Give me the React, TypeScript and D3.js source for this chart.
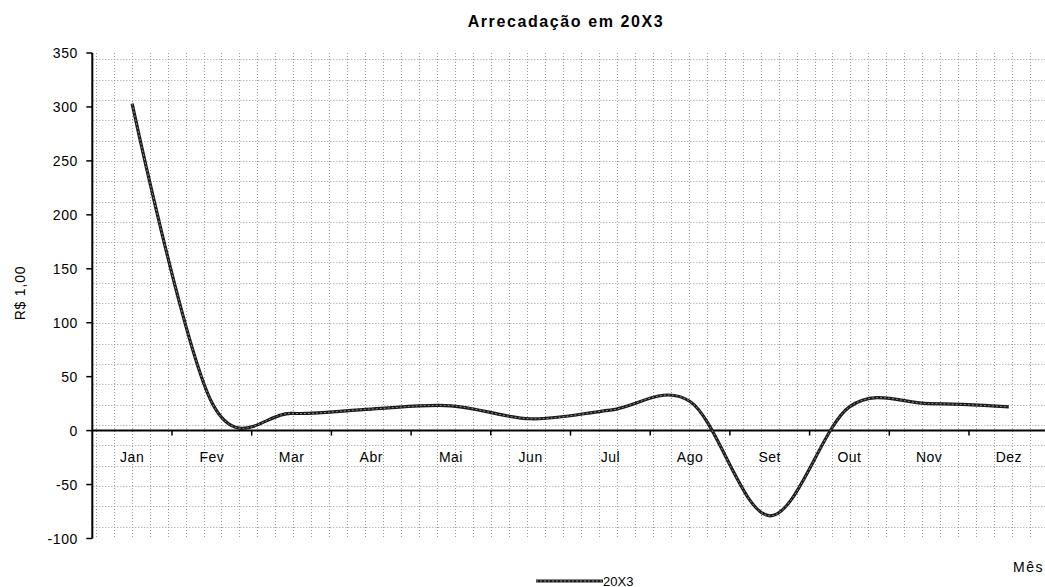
import React from "react";
import * as d3 from "d3";

const months = ["Jan", "Fev", "Mar", "Abr", "Mai", "Jun", "Jul", "Ago", "Set", "Out", "Nov", "Dez"];
const values20X3 = [303, 26, 16, 20, 23, 11, 19, 27, -79, 22, 25, 22];
const yTicks = [-100, -50, 0, 50, 100, 150, 200, 250, 300, 350];
const seriesName = "20X3";
const title = "Arrecadação em 20X3";
const yLabel = "R$ 1,00";
const xLabel = "Mês";

const W = 1045;
const H = 587;
const left = 92.3;
const top = 53;
const bottom = 538.5;
const band = 79.7;
const font = "'Liberation Sans', Arial, sans-serif";

export default function App() {
  const x = d3
    .scaleBand<string>()
    .domain(months)
    .range([left, left + band * months.length])
    .paddingInner(0)
    .paddingOuter(0);
  const y = d3.scaleLinear().domain([-100, 350]).range([bottom, top]);
  const cx = (m: string) => (x(m) as number) + x.bandwidth() / 2;

  const line = d3
    .line<number>()
    .x((_, i) => cx(months[i]))
    .y((d) => y(d))
    .curve(d3.curveCatmullRom.alpha(0));
  const path = line(values20X3) || "";

  const vGrid: number[] = [];
  for (let gx = 95.7; gx < W; gx += 17.97) vGrid.push(gx);
  const hGrid: number[] = [];
  for (let gy = 59.3; gy < bottom; gy += 20.32) hGrid.push(gy);

  const y0 = y(0);
  const tickXs = months.map((m) => x(m) as number).slice(1);

  return (
    <svg
      width={W}
      height={H}
      style={{ position: "absolute", left: 0, top: 0, background: "#fff" }}
      fontFamily={font}
    >
      <rect x={0} y={0} width={W} height={H} fill="#fff" />
      {/* dotted pattern grid */}
      <g stroke="#999999" strokeWidth={1} strokeDasharray="1 2">
        {vGrid.map((gx, i) => (
          <line key={"v" + i} x1={Math.round(gx) + 0.5} x2={Math.round(gx) + 0.5} y1={top} y2={bottom} />
        ))}
        {hGrid.map((gy, i) => (
          <line key={"h" + i} x1={left + 1} x2={W} y1={Math.round(gy) + 0.5} y2={Math.round(gy) + 0.5} />
        ))}
      </g>

      {/* title */}
      <text x={566} y={27} textAnchor="middle" fontWeight="bold" fontSize={16} letterSpacing={1.6} fill="#000">
        {title}
      </text>

      {/* y axis */}
      <line x1={left} x2={left} y1={top} y2={bottom} stroke="#000" strokeWidth={2} />
      {yTicks.map((t) => (
        <g key={t}>
          <line x1={left - 6} x2={left} y1={y(t)} y2={y(t)} stroke="#000" strokeWidth={1.5} />
          <text x={78} y={y(t) + 5} textAnchor="end" fontSize={14} letterSpacing={0.6} fill="#000">
            {t}
          </text>
        </g>
      ))}
      <text
        transform={`translate(25,293) rotate(-90)`}
        textAnchor="middle"
        fontSize={14}
        letterSpacing={0.8}
        fill="#000"
      >
        {yLabel}
      </text>

      {/* x axis */}
      <line x1={left} x2={W} y1={y0} y2={y0} stroke="#000" strokeWidth={2} />
      {tickXs.map((tx, i) => (
        <line key={i} x1={tx} x2={tx} y1={y0} y2={y0 + 5} stroke="#000" strokeWidth={1.5} />
      ))}
      {months.map((m) => (
        <text key={m} x={cx(m)} y={y0 + 31.5} textAnchor="middle" fontSize={14} letterSpacing={0.5} fill="#000">
          {m}
        </text>
      ))}
      <text x={1013} y={572} fontSize={14} letterSpacing={1.5} fill="#000">
        {xLabel}
      </text>

      {/* series line */}
      <path d={path} fill="none" stroke="#1a1a1a" strokeWidth={3.2} strokeLinejoin="round" />
      <path d={path} fill="none" stroke="#8a8a8a" strokeWidth={1} strokeDasharray="2 2" />

      {/* legend */}
      <line x1={536} x2={603} y1={581} y2={581} stroke="#1a1a1a" strokeWidth={3.2} />
      <line x1={536} x2={603} y1={581} y2={581} stroke="#8a8a8a" strokeWidth={1} strokeDasharray="2 2" />
      <text x={603} y={585.5} fontSize={13} fill="#000">
        {seriesName}
      </text>
    </svg>
  );
}
